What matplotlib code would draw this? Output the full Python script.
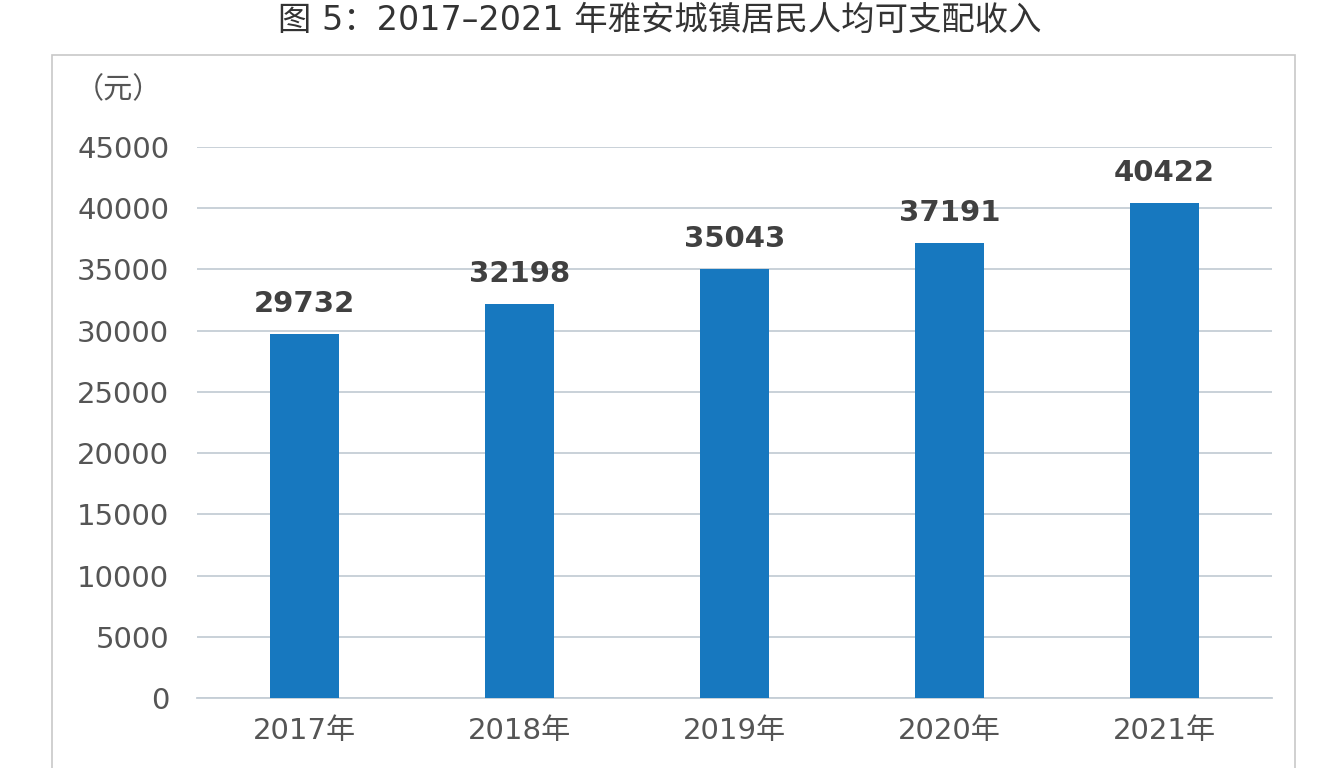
import matplotlib
matplotlib.use('Agg')
import matplotlib.pyplot as plt
from matplotlib.patches import Rectangle

plt.rcParams['font.family'] = ['DejaVu Sans', 'Noto Sans CJK SC']

years = ['2017年', '2018年', '2019年', '2020年', '2021年']
income = [29732, 32198, 35043, 37191, 40422]
yticks = list(range(0, 45001, 5000))

fig = plt.figure(figsize=(13.2, 7.68), dpi=100)
fig.patches.append(Rectangle((52 / 1320, -0.01), (1295 - 52) / 1320, 1 - 55 / 768 + 0.01,
                             transform=fig.transFigure, fill=False, edgecolor='#c8c8c8', lw=1.2))
fig.text(0.5, 1 - 20 / 768, '图 5：2017–2021 年雅安城镇居民人均可支配收入', ha='center', va='center',
         fontsize=24, color='#333333')

ax = fig.add_axes([197 / 1320, 1 - 698 / 768, 1075 / 1320, (698 - 147) / 768])
x = range(len(years))
ax.bar(x, income, width=0.32, color='#1778bf', zorder=3)
for i, v in zip(x, income):
    ax.text(i, v + 1300, str(v), ha='center', va='bottom', fontsize=21, fontweight='bold', color='#404040')

ax.set_xlim(-0.5, 4.5)
ax.set_ylim(0, 45000)
ax.set_yticks(yticks)
ax.set_xticks(list(x))
ax.set_xticklabels(years)
ax.grid(axis='y', color='#c5ced6', lw=1.3, zorder=0)
for s in ['top', 'right', 'left']:
    ax.spines[s].set_visible(False)
ax.spines['bottom'].set_color('#c5ced6')
ax.spines['bottom'].set_linewidth(1.3)
ax.tick_params(axis='both', length=0, labelsize=21, colors='#555555')
ax.tick_params(axis='y', pad=20)
ax.tick_params(axis='x', pad=14)
fig.text(75 / 1320, 1 - 90 / 768, '（元）', ha='left', va='center', fontsize=21, color='#555555')

fig.savefig('out.png', dpi=100)
